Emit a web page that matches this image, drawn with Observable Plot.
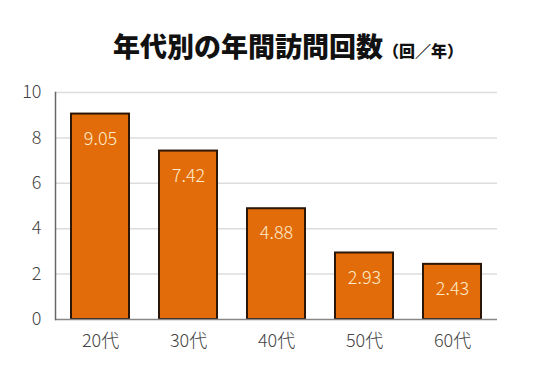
<!DOCTYPE html>
<html><head><meta charset="utf-8">
<script src="https://cdn.jsdelivr.net/npm/d3@7"></script>
<script src="https://cdn.jsdelivr.net/npm/@observablehq/plot@0.6"></script>
<style>
body{margin:0;background:#fff;font-family:"Noto Sans CJK JP","Noto Sans",sans-serif;}
#title{height:60px;box-sizing:border-box;padding-top:32px;text-align:center;padding-left:40px;line-height:1;color:#111;white-space:nowrap;}
#title .main{font-size:27px;font-weight:900;}
#title .unit{font-size:16px;font-weight:900;}
#chart svg{overflow:visible;}
</style></head>
<body>
<div id="title"><span class="main">年代別の年間訪問回数</span><span class="unit">（回／年）</span></div>
<div id="chart"></div>
<script>
const categories = ["20代","30代","40代","50代","60代"];
const values = [9.05, 7.42, 4.88, 2.93, 2.43];
const yTicks = [0, 2, 4, 6, 8, 10];
const data = categories.map((c,i)=>({cat:c, v:values[i]}));
const chart = Plot.plot({
  width:536, height:314,
  marginLeft:55, marginRight:39, marginTop:32, marginBottom:55,
  style:{fontFamily:'"Noto Sans CJK JP","Noto Sans",sans-serif', background:"transparent", fontWeight:300},
  x:{domain:categories, paddingInner:0.34, paddingOuter:0.17, label:null},
  y:{domain:[0,10], ticks:yTicks, label:null},
  marks:[
    Plot.gridY(yTicks.filter(t=>t>0), {stroke:"#dcdcdc", strokeOpacity:1, strokeWidth:1.5}),
    Plot.axisY({ticks:yTicks, tickSize:0, tickPadding:14, fontSize:18, fill:"#444", label:null}),
    Plot.axisX({tickSize:0, tickPadding:15, fontSize:18, fill:"#444", label:null}),
    Plot.barY(data, {x:"cat", y:"v", fill:"#e36c0a", stroke:"#2b1608", strokeWidth:2}),
    Plot.ruleY([0], {stroke:"#888", strokeWidth:1.5}),
    Plot.frame({anchor:"left", stroke:"#666", strokeWidth:1.5}),
    Plot.text(data, {x:"cat", y:"v", text:d=>d.v.toFixed(2), dy:25, fill:"#fdebc8", fontSize:18})
  ]
});
document.getElementById("chart").appendChild(chart);
</script>
</body></html>
